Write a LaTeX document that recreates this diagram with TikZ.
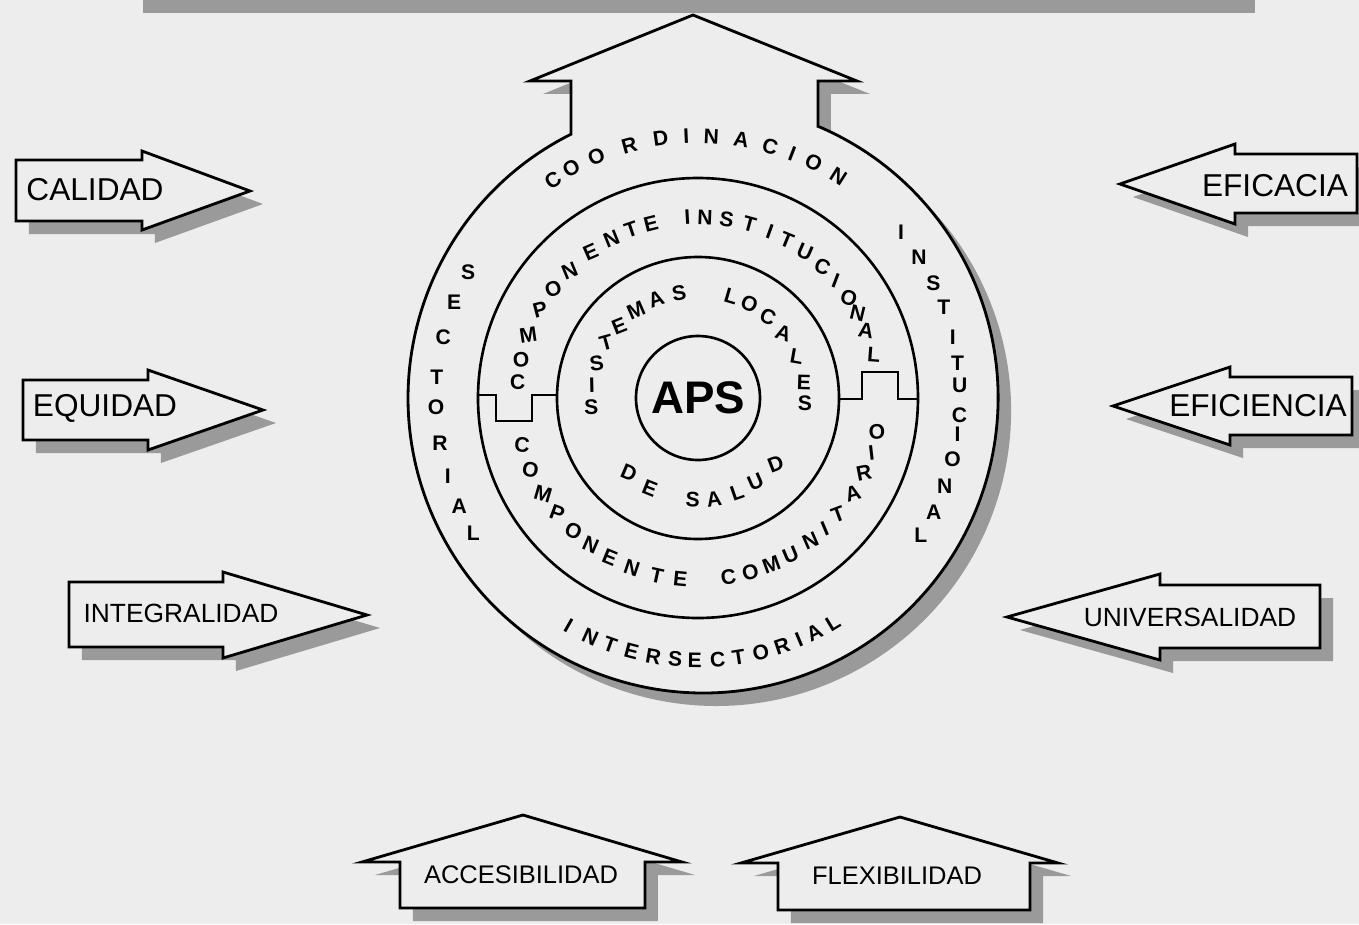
\documentclass[tikz,border=0pt]{standalone}
\usepackage{fontspec}
\setmainfont{Liberation Sans}
\usetikzlibrary{shadows}
\definecolor{paper}{HTML}{EDEDED}
\definecolor{shadowgray}{HTML}{9A9A9A}
\newcommand{\ringfont}{\fontsize{12}{12}\selectfont\bfseries}
\tikzset{
  arrowshape/.style={draw=black,line width=1.6pt,fill=paper,line join=miter,
    drop shadow={shadow xshift=0.26cm,shadow yshift=-0.26cm,fill=shadowgray,opacity=1}},
  ring/.style={draw=black,line width=1.5pt},
  principle/.style={inner sep=0pt,font=\fontsize{18}{18}\selectfont},
  principle_s/.style={principle,font=\fontsize{15}{15}\selectfont},
  principle_b/.style={principle,font=\fontsize{14.5}{14.5}\selectfont},
  letter/.style={inner sep=0pt,font=\ringfont},
}

\begin{document}
\begin{tikzpicture}[x=0.02cm,y=0.02cm]
	\fill[paper] (-698,-526) rectangle (661,398);
	\useasboundingbox (-698,-526) rectangle (661,398);
	\fill[shadowgray] (-555,385) rectangle (557,398);
	% outer ring with the upward arrow
	\coordinate (oc) at (5,0);
	\draw[arrowshape] (120,271.7) -- (120,317) -- (159,317) -- (-5,383) -- (-168,317)
	    -- (-127,317) -- (-127,263.8) arc[start angle=116.6,end angle=427.06,radius=295] -- cycle;
	\draw[ring] (0,0) circle[radius=220];
	\draw[ring] (0,0) circle[radius=141];
	\draw[ring] (0,0) circle[radius=62];
	\draw[ring] (-220,3) -- (-202,3) -- (-202,-23) -- (-166,-23) -- (-166,3) -- (-141,3);
	\draw[ring] (141,-1) -- (164,-1) -- (164,26) -- (200,26) -- (200,-1) -- (220,-1);
	\node[inner sep=0pt,font=\fontsize{26}{26}\selectfont\bfseries] (aps) at (0,0) {APS};
	% outer ring
	\foreach \a/\l [count=\i] in {123.6/C,118.9/O,112.8/O,105.2/R,98.2/D,92.6/I,87.1/N,80.5/A,74/C,68.9/I,63.8/O,57.6/N}
	    \node[letter,rotate=\a-90] (coord\i) at (\a:262) {\l};
	\foreach \a/\l [count=\i] in {-119.6/I,-114.3/N,-109.6/T,-104.7/E,-99.8/R,-95/S,-90.7/E,-85.7/C,-81.1/T,-76.1/O,-71.3/R,-67.3/I,-63.6/A,-59/L}
	    \node[letter,rotate=\a+90] (inter\i) at (\a:262) {\l};
	\foreach \a/\l [count=\i] in {151.3/S,158.5/E,166.5/C,175.4/T,182/O,189.9/R,197.3/I,204.3/A,211/L}
	    \node[letter] (sect\i) at (\a:262) {\l};
	\foreach \a/\l [count=\i] in {39.2/I,32.5/N,26/S,20.2/T,13.5/I,7.7/T,2.8/U,-3.7/C,-8/I,-13.6/O,-19.7/N,-25.9/A,-31.7/L}
	    \node[letter] (inst\i) at (\a:262) {\l};
	% middle ring
	\foreach \a/\l [count=\i] in {174.9/C,167.9/O,159.6/M,150.7/P,143.1/O,135.2/N,126.4/E,118.6/N,111.7/T,105.1/E,93.4/I,87.8/N,80.9/S,73.5/T,66.6/I,60.6/T,53.8/U,46.6/C,40.5/I,33.5/O,28/N,21.8/A,13.8/L}
	    \node[letter,rotate={(\a-90)*sin(\a)^2}] (compi\i) at (\a:181) {\l};
	\foreach \a/\l [count=\i] in {194.9/C,203.1/O,211.7/M,219.3/P,226.8/O,233.9/N,241/E,248.7/N,257/T,264.4/E,279.6/C,286.7/O,293.8/M,300.6/U,308.2/N,314.2/I,320.4/T,328.3/A,335.7/R,342.5/I,349.4/O}
	    \node[letter,rotate={(\a-270)*sin(\a)^2}] (compc\i) at (\a:182) {\l};
	% inner ring
	\foreach \a/\l [count=\i] in {184.9/S,172.9/I,161.2/S,149.2/T,137.5/E,125.4/M,113.1/A,100.2/S,72/L,61.2/O,49.2/C,37.1/A,22.8/L,8.5/E,-2.8/S}
	    \node[letter,rotate={(\a-90)*sin(\a)^2}] (sist\i) at (\a:107) {\l};
	\foreach \a/\l [count=\i] in {227.5/D,241.9/E,267.1/S,279.1/A,292.5/L,304.4/U,319.7/D}
	    \node[letter,rotate={(\a-270)*sin(\a)^2}] (salud\i) at (\a:102) {\l};
	% arrows from the left
	\draw[arrowshape] (-682,238) -- (-556,238) -- (-556,247) -- (-448,207) -- (-556,168) -- (-556,177) -- (-682,177) -- cycle;
	\node[principle] (calidad) at (-603,208) {CALIDAD};
	\draw[arrowshape] (-675,18) -- (-550,18) -- (-550,28) -- (-435,-12) -- (-550,-52) -- (-550,-42) -- (-675,-42) -- cycle;
	\node[principle] (equidad) at (-593,-10) {EQUIDAD};
	\draw[arrowshape] (-629,-184) -- (-475,-184) -- (-475,-174) -- (-331,-217) -- (-475,-260) -- (-475,-249) -- (-629,-249) -- cycle;
	\node[principle_s] (integralidad) at (-517,-215) {INTEGRALIDAD};
	% arrows from the right
	\draw[arrowshape] (659,244) -- (537,244) -- (537,254) -- (422,214) -- (537,174) -- (537,185) -- (659,185) -- cycle;
	\node[principle] (eficacia) at (577,212) {EFICACIA};
	\draw[arrowshape] (654,21) -- (532,21) -- (532,31) -- (415,-8) -- (532,-47) -- (532,-37) -- (654,-37) -- cycle;
	\node[principle] (eficiencia) at (560,-8) {EFICIENCIA};
	\draw[arrowshape] (622,-187) -- (462,-187) -- (462,-176) -- (309,-219) -- (462,-262) -- (462,-250) -- (622,-250) -- cycle;
	\node[principle_s] (universalidad) at (492,-219) {UNIVERSALIDAD};
	% arrows from below
	\draw[arrowshape] (-298,-510) -- (-298,-464) -- (-336,-464) -- (-175,-417) -- (-16,-464) -- (-53,-464) -- (-53,-510) -- cycle;
	\node[principle_b] (accesibilidad) at (-177,-477) {ACCESIBILIDAD};
	\draw[arrowshape] (80,-512) -- (80,-465) -- (43,-465) -- (202,-419) -- (360,-465) -- (332,-465) -- (332,-512) -- cycle;
	\node[principle_b] (flexibilidad) at (199,-478) {FLEXIBILIDAD};
\end{tikzpicture}
\end{document}
